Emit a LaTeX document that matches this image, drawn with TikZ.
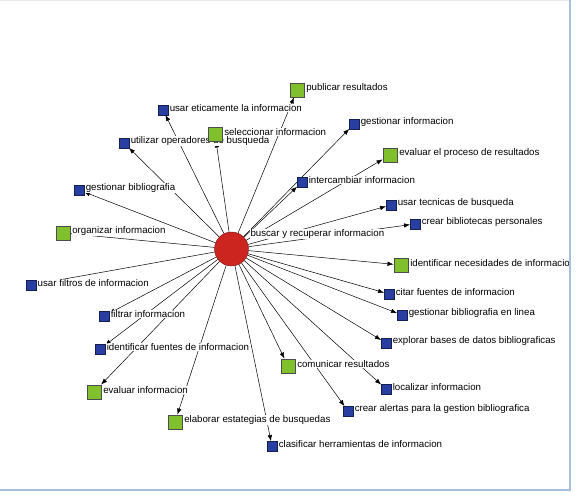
\documentclass[tikz,border=0pt]{standalone}
\usepackage{fontspec}
\setmainfont{Liberation Sans}
\usepackage{tikz}
\usetikzlibrary{arrows.meta,positioning}
\definecolor{hubred}{RGB}{204,36,30}
\definecolor{sqgreen}{RGB}{128,192,44}
\definecolor{sqblue}{RGB}{40,62,160}
\definecolor{framebl}{RGB}{168,190,222}
\pgfdeclarelayer{edges}
\pgfdeclarelayer{labels}
\pgfsetlayers{edges,labels,main}

\begin{document}
\begin{tikzpicture}[x=1pt,y=-1pt,>={Latex[length=6pt,width=4.5pt]},
  lbl/.style={fill=white,inner sep=0.6pt,font=\fontsize{9.7}{11}\selectfont},
  hub/.style={circle,draw=hubred!55!black,fill=hubred,minimum size=34pt,inner sep=0pt},
  bsq/.style={draw=sqblue!50!black,fill=sqblue,minimum size=9.5pt,inner sep=0pt},
  gsq/.style={draw=black!70,fill=sqgreen,minimum size=14.5pt,inner sep=0pt}]
\useasboundingbox (0,0) rectangle (581,498);
\node[hub] (hub) at (231.5,249) {};
% upper half
\node[gsq] (pub) at (297,90) {};
\node[bsq] (eti) at (163,110) {};
\node[gsq] (sel) at (215,134) {};
\node[bsq] (gin) at (354,124) {};
\node[bsq] (ope) at (124,143) {};
\node[gsq] (epr) at (390,155) {};
\node[bsq] (gbi) at (79,190) {};
\node[bsq] (int) at (302,182) {};
\node[bsq] (tec) at (391,205) {};
\node[bsq] (bib) at (415,224) {};
\node[gsq] (org) at (63,233) {};
% lower half
\node[gsq] (nec) at (401,265) {};
\node[bsq] (fil) at (31,285) {};
\node[bsq] (cit) at (389,294) {};
\node[bsq] (gbl) at (402,315) {};
\node[bsq] (ffi) at (104,316) {};
\node[bsq] (exp) at (386,343) {};
\node[bsq] (ifu) at (100,349) {};
\node[gsq] (com) at (288,366) {};
\node[gsq] (evi) at (94,392) {};
\node[bsq] (loc) at (386,389) {};
\node[bsq] (ale) at (348,411) {};
\node[gsq] (ela) at (175,422) {};
\node[bsq] (cla) at (272,446) {};
\begin{pgfonlayer}{labels}
\clip (0,0) rectangle (568.5,489);
\node[lbl,right=1pt of hub,yshift=15pt] (hub-t) {buscar y recuperar informacion};
\foreach \n/\t in {pub/publicar resultados,eti/usar eticamente la informacion,
    sel/seleccionar informacion,gin/gestionar informacion,ope/utilizar operadores de busqueda,
    epr/evaluar el proceso de resultados,gbi/gestionar bibliografia,int/intercambiar informacion,
    tec/usar tecnicas de busqueda,bib/crear bibliotecas personales,org/organizar informacion,
    nec/identificar necesidades de informacion,fil/usar filtros de informacion,
    cit/citar fuentes de informacion,gbl/gestionar bibliografia en linea,ffi/filtrar informacion,
    exp/explorar bases de datos bibliograficas,ifu/identificar fuentes de informacion,
    com/comunicar resultados,evi/evaluar informacion,loc/localizar informacion,
    ale/crear alertas para la gestion bibliografica,ela/elaborar estategias de busquedas,
    cla/clasificar herramientas de informacion}
  \node[lbl,right=1pt of \n,yshift=2pt] (\n-t) {\t};
\end{pgfonlayer}
\begin{pgfonlayer}{edges}
\foreach \n in {pub,eti,sel,gin,ope,epr,gbi,int,tec,bib,org,nec,fil,cit,gbl,ffi,exp,ifu,com,evi,loc,ale,ela,cla}
  \draw[->,line width=0.5pt] (hub)--(\n);
\end{pgfonlayer}
% window frame
\draw[black!8] (0,0.5)--(569.5,0.5);
\draw[framebl,line width=2pt] (0,490)--(569.5,490)--(569.5,0);
\end{tikzpicture}
\end{document}
